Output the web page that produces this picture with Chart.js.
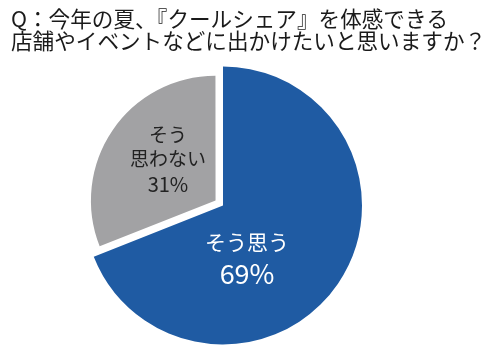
<!DOCTYPE html>
<html><head><meta charset="utf-8">
<script src="https://cdn.jsdelivr.net/npm/chart.js@4.4.0/dist/chart.umd.min.js"></script>
<style>html,body{margin:0;padding:0;background:#fff;}#wrap{width:500px;height:361px;}</style>
</head><body><div id="wrap"><canvas id="c" width="500" height="361"></canvas></div>
<script>
// ---- data ----
const titleLines = ['Q：今年の夏、『クールシェア』を体感できる', '店舗やイベントなどに出かけたいと思いますか？'];
const categories = ['そう思う', 'そう思わない'];
const labelLines = [['そう思う'], ['そう', '思わない']];
const values = [69, 31];

// ---- style ----
const colors = ['#1f5ba3', '#a2a2a4'];
const FONT = '"Noto Sans CJK JP", "Noto Sans", sans-serif';
const sliceRadiusScale = [1, 0.892];
const labelStyle = [
  {dx: 0.173, dy: 0.378, color: '#ffffff', sizes: [21, 27], offsets: [-16, 16]},
  {dx: -0.396, dy: -0.331, color: '#222222', sizes: [19, 19, 20], offsets: [-25, -1, 25]}
];

const sliceRadiusPlugin = {
  id: 'sliceRadius',
  afterDatasetsUpdate(chart) {
    const meta = chart.getDatasetMeta(0);
    const r = meta.controller.outerRadius;
    meta.data.forEach((arc, i) => { arc.outerRadius = r * sliceRadiusScale[i]; });
  }
};

const titlePlugin = {
  id: 'titleText',
  afterDraw(chart) {
    const ctx = chart.ctx;
    ctx.save();
    ctx.fillStyle = '#1a1a1a';
    ctx.font = '21.6px ' + FONT;
    ctx.textBaseline = 'middle';
    ctx.textAlign = 'left';
    titleLines.forEach((t, i) => ctx.fillText(t, 11, 19 + i * 22));
    ctx.restore();
  }
};

const labelPlugin = {
  id: 'sliceLabels',
  afterDatasetsDraw(chart) {
    const ctx = chart.ctx;
    const meta = chart.getDatasetMeta(0);
    const r = meta.controller.outerRadius;
    meta.data.forEach((arc, i) => {
      const st = labelStyle[i];
      const cx = arc.x + st.dx * r, cy = arc.y + st.dy * r;
      const lines = labelLines[i].concat([values[i] + '%']);
      ctx.save();
      ctx.fillStyle = st.color;
      ctx.textAlign = 'center';
      ctx.textBaseline = 'middle';
      lines.forEach((t, j) => {
        ctx.font = st.sizes[j] + 'px ' + FONT;
        ctx.fillText(t, cx, cy + st.offsets[j]);
      });
      ctx.restore();
    });
  }
};

new Chart(document.getElementById('c'), {
  type: 'pie',
  data: {
    labels: categories,
    datasets: [{ data: values, backgroundColor: colors, borderWidth: 0, offset: [0, 36] }]
  },
  options: {
    responsive: false,
    animation: false,
    radius: 139,
    layout: { padding: { top: 50, bottom: 0, left: 0, right: 54 } },
    plugins: { legend: { display: false }, tooltip: { enabled: false }, title: { display: false } },
    events: []
  },
  plugins: [sliceRadiusPlugin, titlePlugin, labelPlugin]
});
</script>
</body></html>
